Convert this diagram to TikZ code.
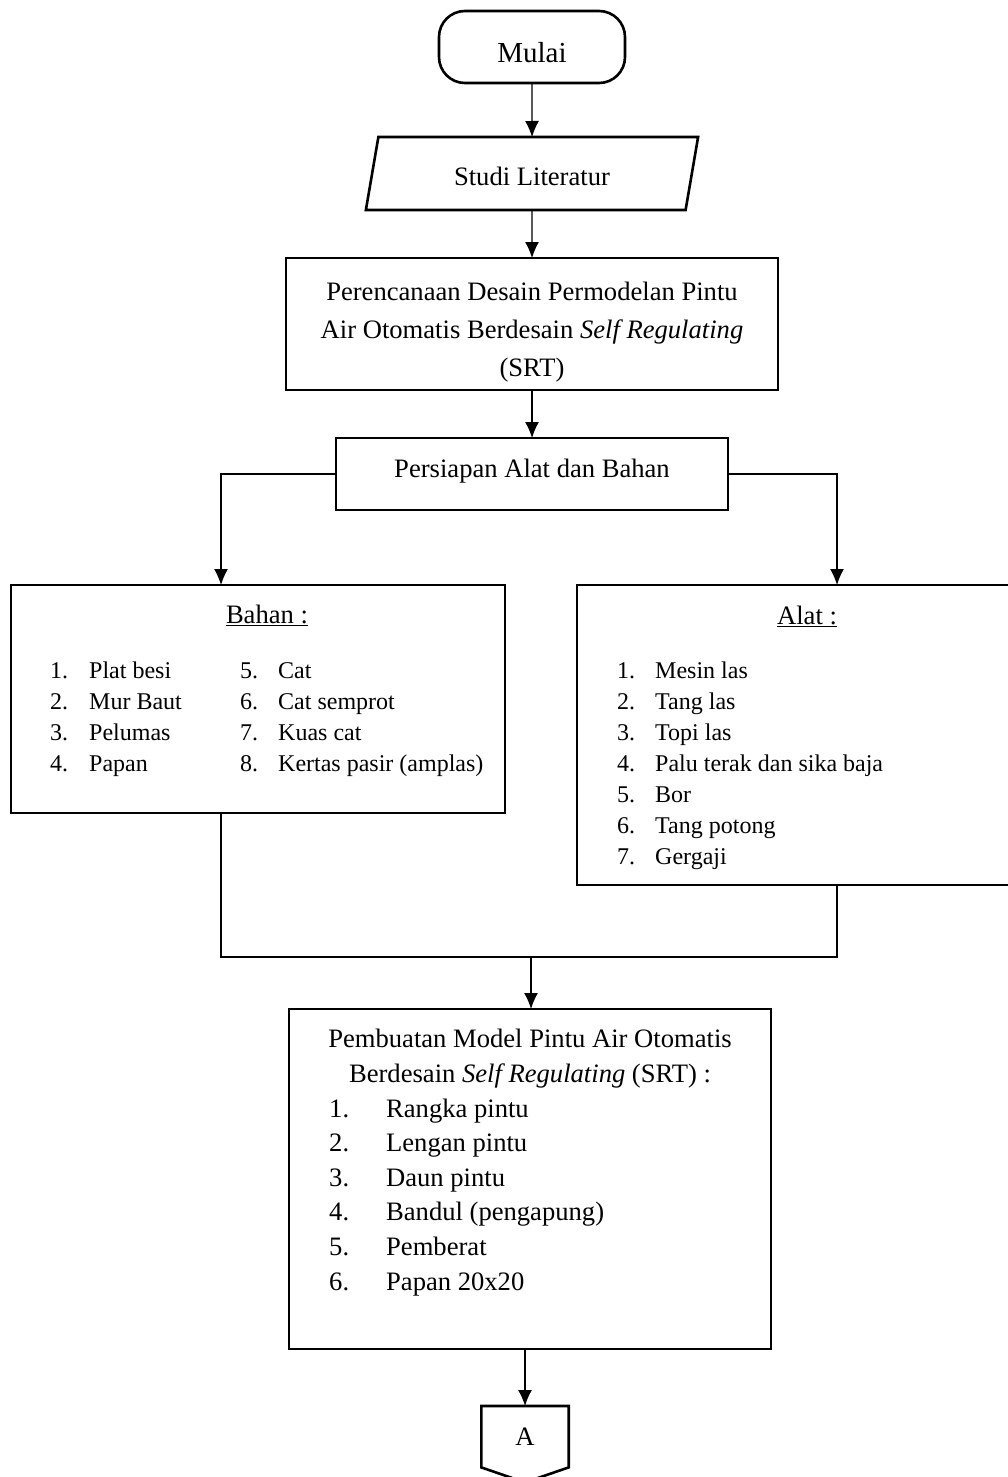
\documentclass[tikz,border=0pt]{standalone}
\usepackage{fontspec}
\setmainfont{Liberation Serif}
\usepackage{tikz}
\usetikzlibrary{positioning, shapes.geometric, arrows.meta}
\tikzstyle{box} = [rectangle, draw, line width=2.6pt, outer sep=0pt, inner sep=0pt, align=center]
\tikzstyle{terminal} = [box, rounded corners=26pt, minimum width=186pt, minimum height=72pt]
\tikzstyle{io} = [trapezium, trapezium left angle=75.4, trapezium right angle=104.6, trapezium stretches=true,
                  draw, line width=2.6pt, outer sep=0pt, minimum width=333pt, minimum height=73pt]
\tikzstyle{arrow} = [line width=1.3pt, -{Latex[length=16pt, width=14pt]}]
\tikzstyle{line} = [line width=1.2pt]
\tikzstyle{item} = [anchor=base west, inner sep=0pt]
\tikzstyle{smallitem} = [item, font=\fontsize{24}{31}\selectfont]

\begin{document}
\begin{tikzpicture}[x=1pt, y=-1pt, font=\fontsize{26.6}{31}\selectfont]

    \useasboundingbox (0,0) rectangle (1008,1477);

    \node[terminal] (mulai) at (532,47) {};
    \node[font=\fontsize{29}{31}\selectfont] (mulaiteks) at ([yshift=-6pt]mulai.center) {Mulai};
    \node[io] (studi) [below=54pt of mulai] {\raisebox{-3pt}[\height][\depth]{Studi Literatur}};
    \node[box, minimum width=492pt, minimum height=132pt] (rencana) [below=48pt of studi] {};
    \node[align=center, font=\fontsize{26.6}{38}\selectfont] (rencanateks) at ([yshift=-8pt]rencana.center)
        {Perencanaan Desain Permodelan Pintu\\Air Otomatis Berdesain \textit{Self Regulating}\\(SRT)};
    \node[box, minimum width=392pt, minimum height=72pt] (persiapan) [below=48pt of rencana] {};
    \node (persiapanteks) at ([yshift=3pt]persiapan.center) {Persiapan Alat dan Bahan};

    % bahan dan alat
    \node[box, minimum width=494pt, minimum height=228pt] (bahan) at (258,699) {};
    \node[box, minimum width=442pt, minimum height=300pt] (alat) at (798,735) {};
    \node[anchor=base, inner sep=0pt] (judulbahan) at (267,623) {\underline{Bahan :}};
    \node[anchor=base, inner sep=0pt] (judulalat) at (807,624) {\underline{Alat :}};
    \foreach \no/\teks [count=\i] in {1/Plat besi, 2/Mur Baut, 3/Pelumas, 4/Papan}
        \node[smallitem] (bhn\i) at (50,{678+31*(\i-1)}) {\makebox[39pt][l]{\no.}\teks};
    \foreach \no/\teks [count=\i] in {5/Cat, 6/Cat semprot, 7/Kuas cat, 8/Kertas pasir (amplas)}
        \node[smallitem] (bhnb\i) at (240,{678+31*(\i-1)}) {\makebox[38pt][l]{\no.}\teks};
    \foreach \no/\teks [count=\i] in {1/Mesin las, 2/Tang las, 3/Topi las, 4/Palu terak dan sika baja,
                                       5/Bor, 6/Tang potong, 7/Gergaji}
        \node[smallitem] (alt\i) at (617,{678+31*(\i-1)}) {\makebox[38pt][l]{\no.}\teks};

    % pembuatan model
    \node[box, minimum width=482pt, minimum height=340pt] (buat) at (530,1179) {};
    \node[anchor=base, inner sep=0pt] (judulbuat1) at (530,1047) {Pembuatan Model Pintu Air Otomatis};
    \node[anchor=base, inner sep=0pt] (judulbuat2) at (530,1082) {Berdesain \textit{Self Regulating} (SRT) :};
    \foreach \no/\teks [count=\i] in {1/Rangka pintu, 2/Lengan pintu, 3/Daun pintu, 4/Bandul (pengapung),
                                       5/Pemberat, 6/Papan 20x20}
        \node[item] (pmb\i) at (329,{1117+34.6*(\i-1)}) {\makebox[57pt][l]{\no.}\teks};

    \node[inner sep=0pt, minimum width=87pt, minimum height=61pt] (konektor) [below=57pt of buat, xshift=-5pt] {A};
    \draw[line width=2.6pt] (konektor.north west) -- (konektor.north east) -- (konektor.south east)
        -- ([yshift=-15pt]konektor.south) -- (konektor.south west) -- cycle;

    \coordinate (kiri) at (221,473);
    \coordinate (kanan) at (837,473);
    \coordinate (gabung) at (531,957);

    \draw[arrow] (mulai) -- (studi);
    \draw[arrow] (studi) -- (rencana);
    \draw[arrow] (rencana) -- (persiapan);
    \draw[arrow] (persiapan.west) -| (bahan.north -| kiri);
    \draw[arrow] (persiapan.east) -| (alat.north -| kanan);
    \draw[line] (bahan.south -| kiri) |- (gabung) -| (alat.south -| kanan);
    \draw[arrow] (gabung) -- (gabung |- buat.north);
    \draw[arrow] (buat.south -| konektor) -- (konektor);

\end{tikzpicture}
\end{document}
